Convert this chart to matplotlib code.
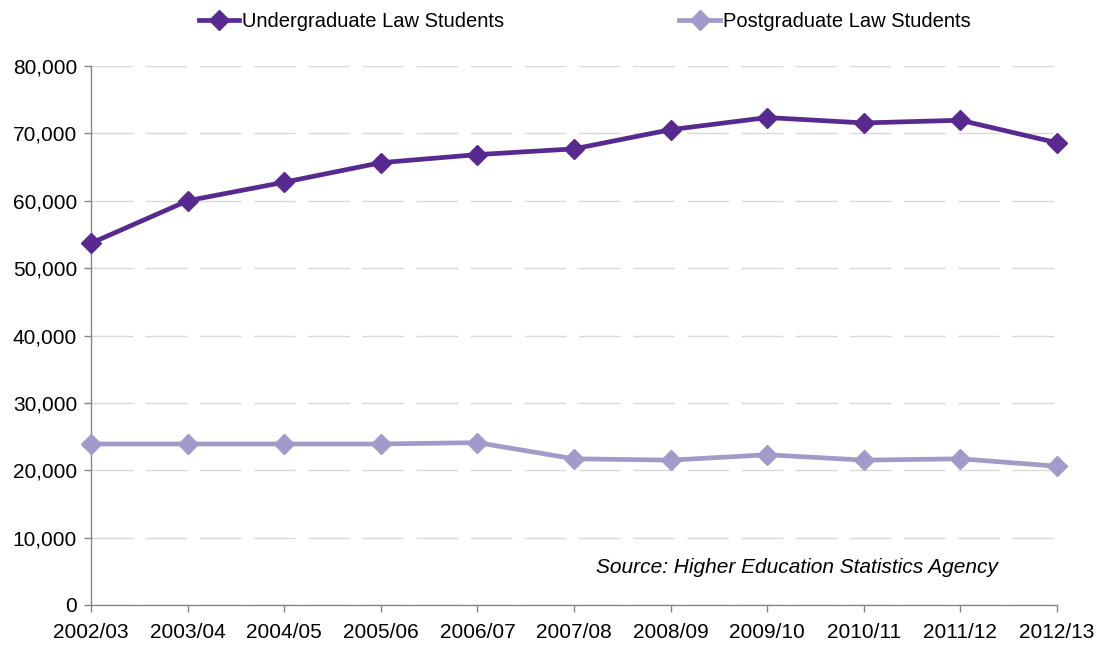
import matplotlib.pyplot as plt
from matplotlib.ticker import FuncFormatter

plt.rcParams["font.family"] = ["Liberation Sans", "DejaVu Sans"]

years = ["2002/03", "2003/04", "2004/05", "2005/06", "2006/07", "2007/08",
         "2008/09", "2009/10", "2010/11", "2011/12", "2012/13"]
undergrad = [53700, 60000, 62750, 65650, 66850, 67700, 70550, 72350, 71550, 71950, 68600]
postgrad = [23900, 23900, 23900, 23900, 24100, 21700, 21500, 22300, 21500, 21700, 20600]

ug_color = "#582A8F"
pg_color = "#A09BC9"
axis_color = "#868686"

fig = plt.figure(figsize=(11.01, 6.46), dpi=100)
ax = fig.add_axes([91 / 1101, 1 - 605 / 646, 966 / 1101, 539 / 646])

x = list(range(len(years)))
ax.plot(x, undergrad, color=ug_color, lw=3.4, marker="D", ms=10, label="Undergraduate Law Students",
        zorder=4, clip_on=False)
ax.plot(x, postgrad, color=pg_color, lw=3.4, marker="D", ms=10, label="Postgraduate Law Students",
        zorder=3, clip_on=False)

ax.set_xlim(0, len(years) - 1)
ax.set_ylim(0, 80000)
ax.set_yticks(range(0, 80001, 10000))
ax.yaxis.set_major_formatter(FuncFormatter(lambda v, _: f"{int(v):,}"))
ax.set_xticks(x)
ax.set_xticklabels(years)

ax.grid(axis="y", color="#D9D9D9", lw=1, linestyle=(0, (30, 9)))
ax.set_axisbelow(True)
for s in ["top", "right"]:
    ax.spines[s].set_visible(False)
for s in ["left", "bottom"]:
    ax.spines[s].set_color(axis_color)
    ax.spines[s].set_linewidth(1)
ax.tick_params(axis="both", colors=axis_color, labelcolor="black", labelsize=15, length=5, width=1)
ax.tick_params(axis="x", pad=8)
ax.tick_params(axis="y", pad=5)

ax.text(0.939, 0.069, "Source: Higher Education Statistics Agency", transform=ax.transAxes,
        ha="right", va="center", fontsize=15, style="italic")

ax.legend(loc="center", bbox_to_anchor=(0.511, 1.082), ncol=2, frameon=False, fontsize=14.5,
          columnspacing=8.7, handlelength=2.0, handletextpad=0.15, borderaxespad=0)

fig.savefig("out.png", dpi=100)
